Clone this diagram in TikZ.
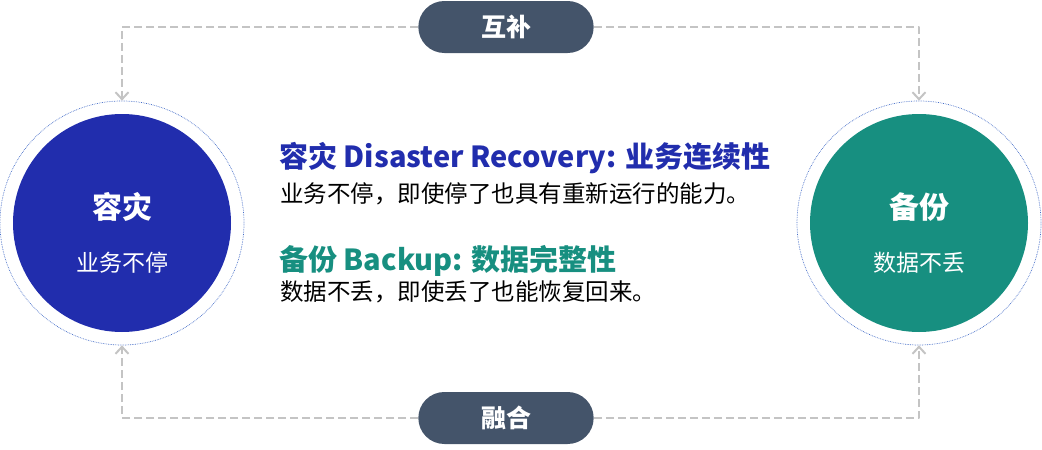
\documentclass[tikz,border=0pt]{standalone}
\usepackage{fontspec}
\setmainfont{Noto Sans CJK SC}
\usetikzlibrary{arrows.meta,positioning,shapes.misc}
\definecolor{rzblue}{RGB}{33,45,173}
\definecolor{bfgreen}{RGB}{23,143,128}
\definecolor{pillgray}{RGB}{68,84,106}
\definecolor{dashgray}{RGB}{196,196,196}
\definecolor{ringblue}{RGB}{70,110,200}
\begin{document}
\begin{tikzpicture}[x=1pt,y=-1pt,line join=round,>={Straight Barb[length=7pt,width=13pt]}]
	\tikzset{ring/.style={circle,draw=ringblue,densely dotted,line width=0.7pt,minimum size=244pt,inner sep=0pt},
		disk/.style={circle,fill=#1,minimum size=218pt,inner sep=0pt},
		pill/.style={rounded rectangle,fill=pillgray,text=white,minimum width=182pt,minimum height=52pt,font=\fontsize{25}{27}\selectfont\bfseries},
		link/.style={draw=dashgray,dashed,line width=2pt,dash pattern=on 8pt off 4pt,->},
		head/.style={anchor=west,font=\fontsize{29}{32}\selectfont\bfseries,inner sep=0pt},
		body/.style={anchor=west,font=\fontsize{23.5}{26}\selectfont,inner sep=0pt}}
	\useasboundingbox (0,0) rectangle (1042,450);
	\def \yc{223}
	% circles
	\node[ring] (rz) at (122,\yc) {};
	\node[disk=rzblue] (rzd) at (rz) {};
	\node[ring] (bf) at (919,\yc) {};
	\node[disk=bfgreen] (bfd) at (bf) {};
	\node[text=white,font=\fontsize{30}{32}\selectfont\bfseries] (rzt) at (122,207) {容灾};
	\node[text=white,font=\fontsize{23}{25}\selectfont] (rzs) at (122,263) {业务不停};
	\node[text=white,font=\fontsize{30}{32}\selectfont\bfseries] (bft) at (919,207) {备份};
	\node[text=white,font=\fontsize{23}{25}\selectfont] (bfs) at (919,263) {数据不丢};
	% pills
	\node[pill] (hb) at (506,27) {互补};
	\node[pill] (rh) at (506,418) {融合};
	% links
	\draw[link] (hb.west) -| (rz.north);
	\draw[link] (hb.east) -| (bf.north);
	\draw[link] (rh.west) -| (rz.south);
	\draw[link] (rh.east) -| (bf.south);
	% middle text
	\node[head,text=rzblue] (h1) at (279,158) {容灾 Disaster Recovery: 业务连续性};
	\node[body] (b1) at (280,194) {业务不停，即使停了也具有重新运行的能力。};
	\node[head,text=bfgreen] (h2) at (279,261) {备份 Backup: 数据完整性};
	\node[body] (b2) at (280,292) {数据不丢，即使丢了也能恢复回来。};
\end{tikzpicture}
\end{document}
